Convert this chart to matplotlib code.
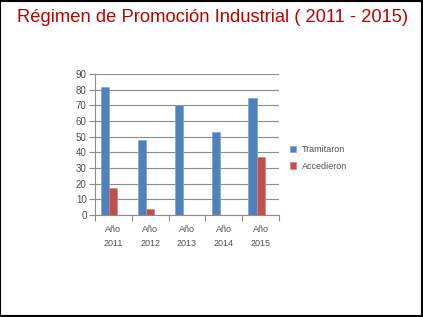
import matplotlib
matplotlib.use("Agg")
import matplotlib.pyplot as plt
import numpy as np
from matplotlib.patches import Rectangle

categories = ["Año\n2011", "Año\n2012", "Año\n2013", "Año\n2014", "Año\n2015"]
tramitaron = [82, 48, 70, 53, 75]
accedieron = [17, 4, 0, 0, 37]
series_names = ["Tramitaron", "Accedieron"]
title = "Régimen de Promoción Industrial ( 2011 - 2015)"

plt.rcParams['font.family'] = ['Liberation Sans', 'DejaVu Sans']

fig = plt.figure(figsize=(4.23, 3.17), dpi=100)
ax = fig.add_axes([95/423, 1-215/317, (279-95)/423, (215-74)/317])

x = np.arange(len(categories))
w = 1/4.5
ax.bar(x - w, tramitaron, width=w, color="#4F81BD", edgecolor="#7FA3D0", linewidth=0.5, label=series_names[0], zorder=3)
ax.bar(x, accedieron, width=w, color="#C0504D", edgecolor="#D8827F", linewidth=0.5, label=series_names[1], zorder=3)

ax.set_xlim(-0.5, len(categories) - 0.5)
ax.set_ylim(0, 90)
ax.set_yticks(np.arange(0, 91, 10))
ax.yaxis.grid(True, color="#8C8C8C", linewidth=0.8, zorder=0)
ax.set_axisbelow(True)

ax.set_xticks(x)
ax.set_xticklabels(categories, fontsize=6.5, color="#505050", linespacing=1.7)
ax.set_xticks(np.arange(-0.5, len(categories), 1), minor=True)
ax.tick_params(axis='x', which='major', length=0, pad=7)
ax.tick_params(axis='x', which='minor', length=4, color="#8C8C8C", width=0.8)
ax.tick_params(axis='y', length=4, color="#8C8C8C", width=0.8, labelsize=7, labelcolor="#505050", pad=2)

for s in ["top", "right"]:
    ax.spines[s].set_visible(False)
ax.spines["left"].set_color("#8C8C8C")
ax.spines["bottom"].set_color("#8C8C8C")
ax.spines["left"].set_linewidth(0.8)
ax.spines["bottom"].set_linewidth(0.8)

leg = ax.legend(loc="center left", bbox_to_anchor=(282/423, 1-158/317), bbox_transform=fig.transFigure,
                frameon=False, fontsize=6.5, handlelength=0.7, handleheight=0.7, handletextpad=0.6,
                labelspacing=0.8, labelcolor="#505050")

fig.text(213/423, 1-18/317, title, ha="center", va="center", fontsize=13.2, color="#C00000")

fig.patches.append(Rectangle((0.001, 0.002), 0.996, 0.996, transform=fig.transFigure,
                             fill=False, edgecolor="black", linewidth=1.5))

fig.savefig("out.png", dpi=100)
